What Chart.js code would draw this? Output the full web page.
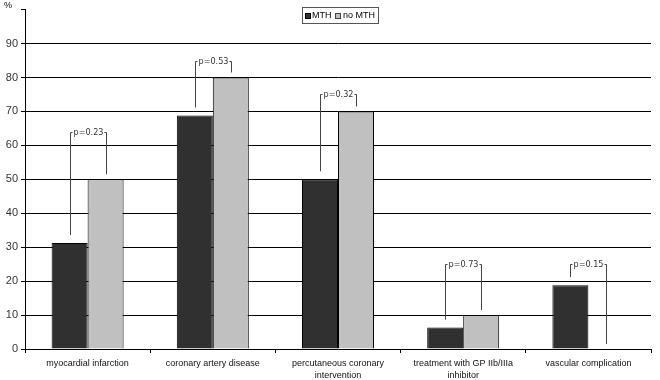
<!DOCTYPE html>
<html lang="en">
<head>
    <meta charset="UTF-8">
    <title>MTH chart</title>
    <script src="https://cdn.jsdelivr.net/npm/chart.js"></script>
    <style>
        body { margin: 0; background: #fff; }
        #wrap { width: 660px; height: 380px; }
    </style>
</head>
<body>
    <div id="wrap"><canvas id="mthChart" width="660" height="380"></canvas></div>
    <script>
        const categories = [
            ['myocardial infarction'],
            ['coronary artery disease'],
            ['percutaneous coronary', 'intervention'],
            ['treatment with GP IIb/IIIa', 'inhibitor'],
            ['vascular complication']
        ];
        const mthValues = [31.2, 68.8, 50, 6.3, 18.8];
        const noMthValues = [50, 80, 70, 10, 0];
        const pLabels = ['p=0.23', 'p=0.53', 'p=0.32', 'p=0.73', 'p=0.15'];
        const bracketTop = [64, 85, 75, 25, 25];

        const FONT = '"Liberation Sans", Arial, sans-serif';

        // p-value brackets, legend box and the % label
        const extras = {
            id: 'extras',
            afterDatasetsDraw(chart) {
                const c = chart.ctx;
                const y = chart.scales.y;
                const m0 = chart.getDatasetMeta(0).data;
                const m1 = chart.getDatasetMeta(1).data;
                c.save();
                c.strokeStyle = '#444';
                c.lineWidth = 1;
                c.font = '9px "Liberation Sans Narrow", "DejaVu Sans Condensed", sans-serif';
                c.textAlign = 'center';
                c.textBaseline = 'middle';
                c.fillStyle = '#333';
                pLabels.forEach((lab, i) => {
                    const x1 = Math.round(m0[i].x) + 0.5;
                    const x2 = Math.round(m1[i].x) + 0.5;
                    const top = Math.round(y.getPixelForValue(bracketTop[i])) + 0.5;
                    const b1 = y.getPixelForValue(mthValues[i]) - 8;
                    const b2 = y.getPixelForValue(noMthValues[i]) - 5;
                    const mid = (x1 + x2) / 2;
                    const tw = c.measureText(lab).width;
                    c.beginPath();
                    c.moveTo(x1, b1); c.lineTo(x1, top); c.lineTo(mid - tw / 2 - 1, top);
                    c.moveTo(mid + tw / 2 + 1, top); c.lineTo(x2, top); c.lineTo(x2, b2);
                    c.stroke();
                    c.fillText(lab, mid, top);
                });
                // legend
                c.strokeStyle = '#555';
                c.strokeRect(302.5, 7.5, 76, 16);
                c.font = '9px ' + FONT;
                c.textAlign = 'left';
                c.fillStyle = '#333';
                c.fillRect(305, 13, 6, 6);
                c.strokeStyle = '#000';
                c.strokeRect(305.5, 13.5, 5, 5);
                c.fillStyle = '#000';
                c.fillText('MTH', 312, 16);
                c.fillStyle = '#c0c0c0';
                c.fillRect(335, 13, 6, 6);
                c.strokeStyle = '#444';
                c.strokeRect(335.5, 13.5, 5, 5);
                c.fillStyle = '#000';
                c.fillText('no MTH', 343, 16);
                c.fillText('%', 4, 6);
                c.restore();
            }
        };

        new Chart(document.getElementById('mthChart'), {
            type: 'bar',
            data: {
                labels: categories,
                datasets: [{
                    label: 'MTH',
                    data: mthValues,
                    backgroundColor: '#303030',
                    borderColor: '#000',
                    borderWidth: 1,
                    barPercentage: 1,
                    categoryPercentage: 0.575
                }, {
                    label: 'no MTH',
                    data: noMthValues,
                    backgroundColor: '#c0c0c0',
                    borderColor: '#000',
                    borderWidth: 1,
                    barPercentage: 1,
                    categoryPercentage: 0.575
                }]
            },
            options: {
                responsive: false,
                animation: false,
                layout: { padding: { top: 9, right: 9, left: 0, bottom: 0 } },
                plugins: {
                    legend: { display: false },
                    tooltip: { enabled: false }
                },
                scales: {
                    x: {
                        afterFit(s) { s.height = 31; },
                        grid: {
                            offset: true,
                            drawOnChartArea: false,
                            tickLength: 4,
                            color: '#000'
                        },
                        border: { color: '#000' },
                        ticks: {
                            color: '#111',
                            font: { family: FONT, size: 9, lineHeight: 1.4 },
                            padding: 4,
                            maxRotation: 0,
                            autoSkip: false
                        }
                    },
                    y: {
                        min: 0,
                        max: 100,
                        afterFit(s) { s.width = 25; },
                        grid: {
                            color: ctx => (ctx.tick && (ctx.tick.value === 100 || ctx.tick.value === 0)) ? 'rgba(0,0,0,0)' : '#000',
                            tickLength: 4,
                            tickColor: '#000'
                        },
                        border: { color: '#000' },
                        ticks: {
                            stepSize: 10,
                            color: '#333',
                            padding: 3,
                            font: { family: FONT, size: 11 },
                            callback: v => v === 100 ? '' : v
                        }
                    }
                }
            },
            plugins: [extras]
        });
    </script>
</body>
</html>
